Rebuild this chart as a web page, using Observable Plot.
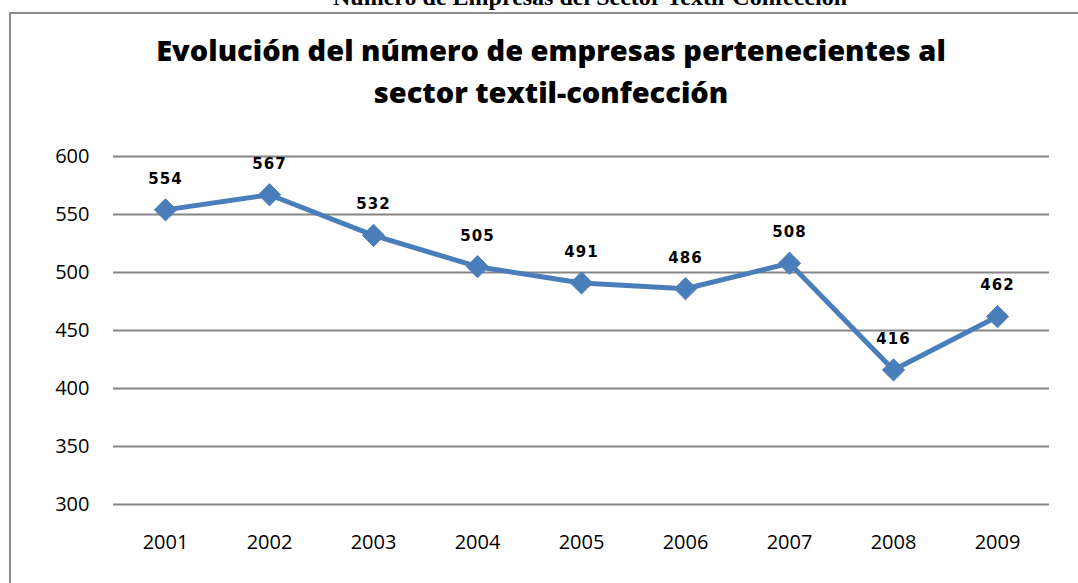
<!DOCTYPE html>
<html>
<head>
<meta charset="utf-8">
<script src="https://cdn.jsdelivr.net/npm/d3@7"></script>
<script src="https://cdn.jsdelivr.net/npm/@observablehq/plot@0.6"></script>
<style>
  html, body { margin: 0; padding: 0; background: #fff; overflow: hidden; }
  #page { position: relative; width: 1078px; height: 583px; overflow: hidden; }
  #top { position: absolute; left: 0; width: 1180px; top: -16px; text-align: center;
         font-family: "Liberation Serif", serif; font-weight: bold; font-size: 24px; color: #000; }
  #box { position: absolute; left: 9px; top: 12px; width: 1200px; height: 700px;
         border: 2px solid #8c8c8c; box-sizing: border-box; }
  #title { position: absolute; left: 0; width: 1102px; top: 29px; text-align: center;
           font-family: "Open Sans", sans-serif; font-weight: 800; font-size: 29px; line-height: 42px; color: #000; }
  #chart { position: absolute; left: 0; top: 120px; }
</style>
</head>
<body>
<div id="page">
  <div id="top">Número de Empresas del Sector Textil-Confección</div>
  <div id="box"></div>
  <div id="title">Evolución del número de empresas pertenecientes al<br>sector textil-confección</div>
  <div id="chart"></div>
</div>
<script>
const years = ["2001","2002","2003","2004","2005","2006","2007","2008","2009"];
const empresas = [554, 567, 532, 505, 491, 486, 508, 416, 462];
const yTicks = [300, 350, 400, 450, 500, 550, 600];

const data = years.map((y, i) => ({year: y, value: empresas[i]}));

const chart = Plot.plot({
  width: 1078,
  height: 463,
  marginTop: 36,
  marginBottom: 79,
  marginLeft: 113,
  marginRight: 29,
  style: { fontFamily: "'Open Sans', sans-serif", fontSize: "20px", color: "#000", background: "transparent" },
  x: { type: "band", domain: years, padding: 0 },
  y: { domain: [300, 600] },
  marks: [
    Plot.gridY(yTicks, { stroke: "#868686", strokeOpacity: 1, strokeWidth: 2 }),
    Plot.axisY(yTicks, { tickSize: 0, tickPadding: 24, fontSize: 20, label: null, fill: "#000" }),
    Plot.axisX(years, { tickSize: 0, tickPadding: 30, fontSize: 20, label: null, fill: "#000" }),
    Plot.line(data, { x: "year", y: "value", stroke: "#4a7ebb", strokeWidth: 5, strokeLinejoin: "round" }),
    Plot.dot(data, { x: "year", y: "value", symbol: "diamond2", r: 10, fill: "#4a7ebb", stroke: "#4a7ebb", strokeWidth: 1 }),
    Plot.text(data, { x: "year", y: "value", text: d => String(d.value), dy: -31,
      fontFamily: "'DejaVu Sans', sans-serif", fontWeight: "bold", fontSize: 15, fill: "#000" })
  ]
});
document.getElementById("chart").appendChild(chart);
document.querySelectorAll("#chart svg g[aria-label='text'] text").forEach(t => t.style.letterSpacing = "1px");
</script>
</body>
</html>
